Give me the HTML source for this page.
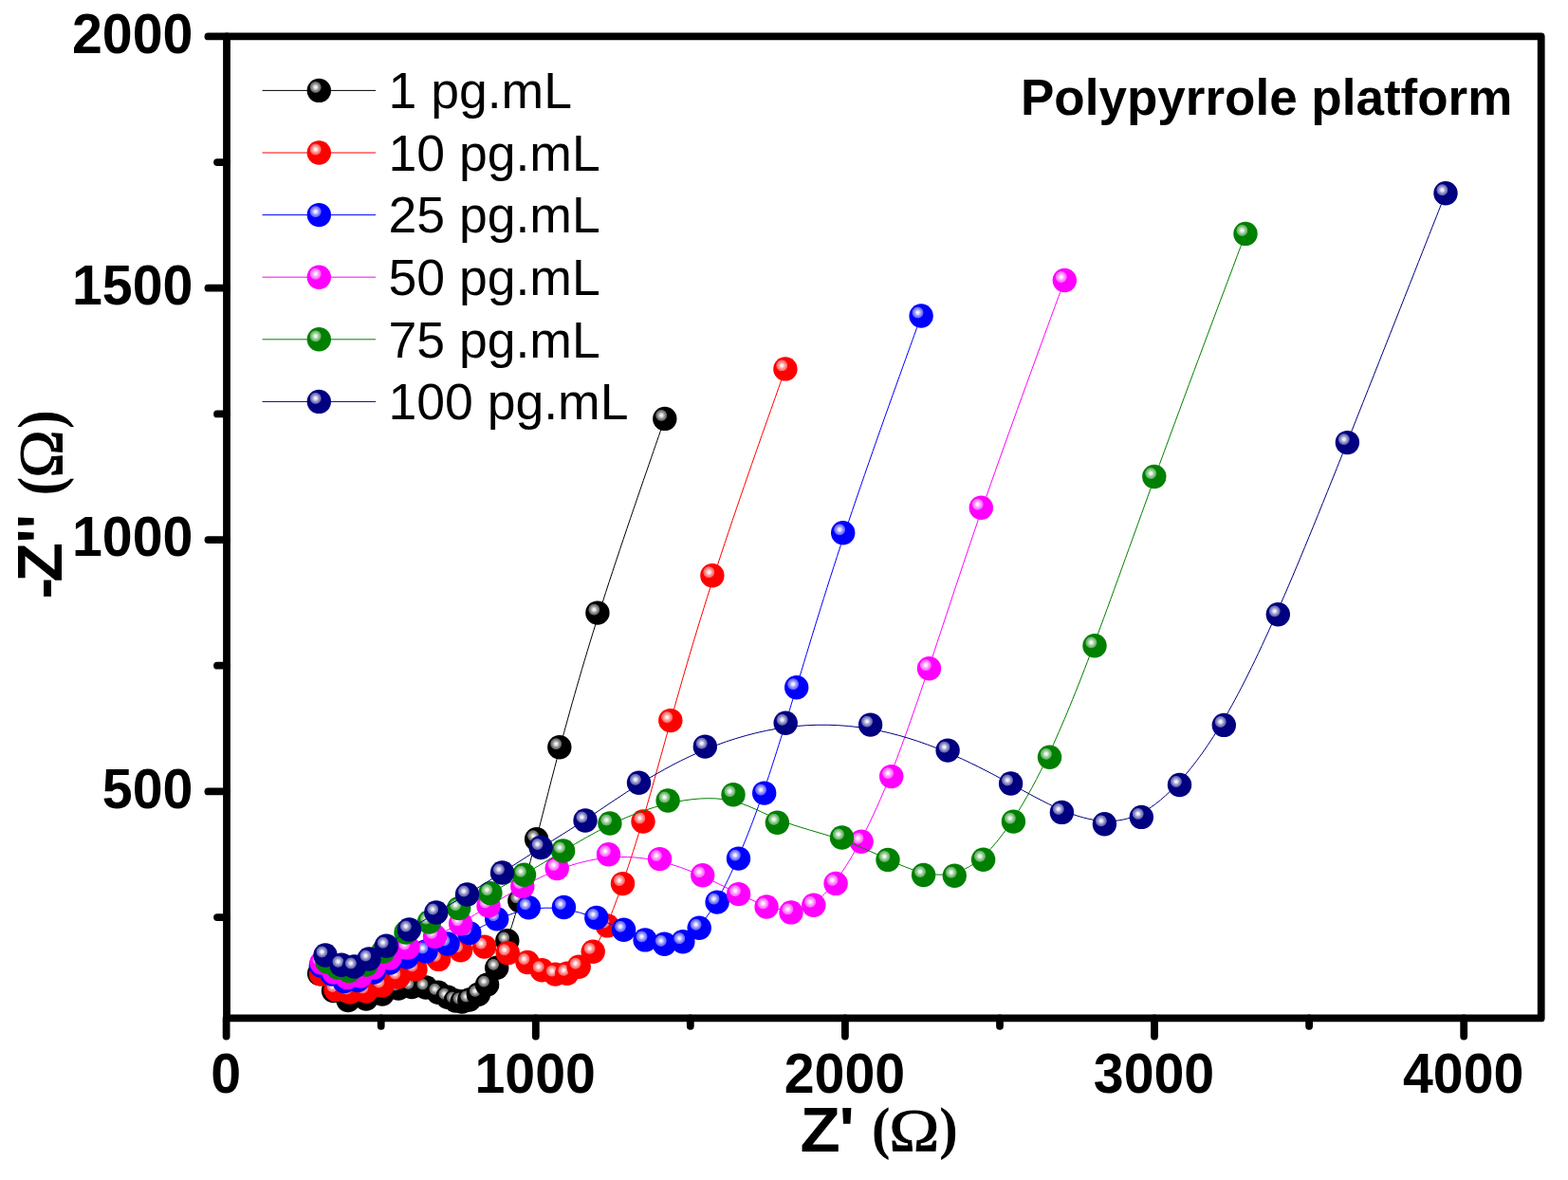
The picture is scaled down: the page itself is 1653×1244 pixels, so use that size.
<!DOCTYPE html><html><head><meta charset="utf-8"><title>Nyquist plot - Polypyrrole platform</title>
<style>html,body{margin:0;padding:0;background:#fff;}body{width:1653px;height:1244px;overflow:hidden;}svg{display:block;}.t{font-family:"Liberation Sans",Arial,sans-serif;}.b{font-weight:bold;}.s{font-family:"Liberation Serif","Times New Roman",serif;font-weight:bold;}.r{font-family:"Liberation Serif","Times New Roman",serif;}</style></head><body>
<svg width="1653" height="1244" viewBox="0 0 1653 1244">
<defs><radialGradient id="hl" cx="0.5" cy="0.5" r="0.5"><stop offset="0" stop-color="#fff" stop-opacity="1"/><stop offset="0.22" stop-color="#fff" stop-opacity="0.9"/><stop offset="0.6" stop-color="#fff" stop-opacity="0.55"/><stop offset="0.85" stop-color="#fff" stop-opacity="0.4"/><stop offset="1" stop-color="#fff" stop-opacity="0"/></radialGradient></defs>
<rect width="1653" height="1244" fill="#fff"/>
<path d="M336.6,1026.5C336.6,1026.5 336.6,1026.5 339.1,1029.5C341.6,1032.5 346.5,1038.5 351.6,1043.2C356.7,1047.8 361.8,1051.2 367.6,1052.6C373.3,1054 379.7,1053.5 385.7,1052.4C391.7,1051.3 397.3,1049.7 403,1047.8C408.7,1046 414.3,1044 419.5,1042.8C424.7,1041.5 429.3,1041 434.2,1040.8C439,1040.7 444,1040.8 448.7,1041.8C453.3,1042.8 457.7,1044.5 461.5,1046.2C465.3,1047.9 468.7,1049.6 471.7,1051C474.8,1052.5 477.5,1053.7 480,1054.5C482.6,1055.3 484.8,1055.7 487.3,1055.5C489.7,1055.3 492.2,1054.7 495.1,1053.4C498,1052.1 501.2,1050.2 504.3,1047.5C507.5,1044.9 510.5,1041.5 513.8,1036.8C517,1032.2 520.3,1026.2 523.9,1018.5C527.4,1010.8 531.1,1001.3 535.1,989.6C539.1,977.8 543.5,963.8 548.6,945.9C553.7,928.1 559.7,906.4 566.7,879.4C573.7,852.4 581.7,820 592.4,780.3C603.2,740.5 616.5,693.3 635,635.6C653.5,577.9 677.2,509.6 689,475.5C700.8,441.4 700.8,441.4 700.8,441.4" fill="none" stroke="#000000" stroke-width="1.0"/>
<g><circle cx="336.6" cy="1026.5" r="12.7" fill="#000000"/><circle cx="333" cy="1023" r="6.4" fill="url(#hl)"/><circle cx="351.5" cy="1044.5" r="12.7" fill="#000000"/><circle cx="347.9" cy="1041" r="6.4" fill="url(#hl)"/><circle cx="367" cy="1054.5" r="12.7" fill="#000000"/><circle cx="363.4" cy="1051" r="6.4" fill="url(#hl)"/><circle cx="386" cy="1053" r="12.7" fill="#000000"/><circle cx="382.4" cy="1049.5" r="6.4" fill="url(#hl)"/><circle cx="403" cy="1048" r="12.7" fill="#000000"/><circle cx="399.4" cy="1044.5" r="6.4" fill="url(#hl)"/><circle cx="420" cy="1042" r="12.7" fill="#000000"/><circle cx="416.4" cy="1038.5" r="6.4" fill="url(#hl)"/><circle cx="434" cy="1040.5" r="12.7" fill="#000000"/><circle cx="430.4" cy="1037" r="6.4" fill="url(#hl)"/><circle cx="449" cy="1041" r="12.7" fill="#000000"/><circle cx="445.4" cy="1037.5" r="6.4" fill="url(#hl)"/><circle cx="462" cy="1046.3" r="12.7" fill="#000000"/><circle cx="458.4" cy="1042.8" r="6.4" fill="url(#hl)"/><circle cx="472" cy="1051.2" r="12.7" fill="#000000"/><circle cx="468.4" cy="1047.7" r="6.4" fill="url(#hl)"/><circle cx="480.3" cy="1055" r="12.7" fill="#000000"/><circle cx="476.7" cy="1051.5" r="6.4" fill="url(#hl)"/><circle cx="487.1" cy="1056" r="12.7" fill="#000000"/><circle cx="483.5" cy="1052.5" r="6.4" fill="url(#hl)"/><circle cx="494.8" cy="1054" r="12.7" fill="#000000"/><circle cx="491.2" cy="1050.5" r="6.4" fill="url(#hl)"/><circle cx="504.4" cy="1048.3" r="12.7" fill="#000000"/><circle cx="500.8" cy="1044.8" r="6.4" fill="url(#hl)"/><circle cx="513.6" cy="1038.1" r="12.7" fill="#000000"/><circle cx="510" cy="1034.6" r="6.4" fill="url(#hl)"/><circle cx="523.7" cy="1020.3" r="12.7" fill="#000000"/><circle cx="520.1" cy="1016.8" r="6.4" fill="url(#hl)"/><circle cx="534.8" cy="991.8" r="12.7" fill="#000000"/><circle cx="531.2" cy="988.3" r="6.4" fill="url(#hl)"/><circle cx="547.8" cy="949.8" r="12.7" fill="#000000"/><circle cx="544.2" cy="946.3" r="6.4" fill="url(#hl)"/><circle cx="565.6" cy="884.7" r="12.7" fill="#000000"/><circle cx="562" cy="881.2" r="6.4" fill="url(#hl)"/><circle cx="589.8" cy="787.7" r="12.7" fill="#000000"/><circle cx="586.2" cy="784.2" r="6.4" fill="url(#hl)"/><circle cx="629.9" cy="646.1" r="12.7" fill="#000000"/><circle cx="626.3" cy="642.6" r="6.4" fill="url(#hl)"/><circle cx="700.8" cy="441.4" r="12.7" fill="#000000"/><circle cx="697.2" cy="437.9" r="6.4" fill="url(#hl)"/></g>
<path d="M338.5,1027C338.5,1027 338.5,1027 341.1,1029.8C343.7,1032.5 348.8,1038 353.9,1041.2C359,1044.3 364,1045.2 369.3,1045.4C374.7,1045.7 380.3,1045.3 386,1044.2C391.7,1043 397.3,1041 403,1038.5C408.7,1036 414.3,1033 420.2,1030.2C426,1027.3 432,1024.7 439.1,1021.6C446.2,1018.5 454.3,1014.9 462.3,1011.6C470.2,1008.2 477.9,1005 485.9,1002.8C494,1000.6 502.3,999.3 510.6,999.8C518.9,1000.3 527.1,1002.6 534.6,1005.3C542.2,1008 549.1,1011.3 555.1,1014.2C561.1,1017.2 566.2,1020 571.1,1022.1C576,1024.2 580.7,1025.6 585.1,1026.2C589.5,1026.8 593.7,1026.6 597.8,1025.2C601.9,1023.9 606.1,1021.6 610.6,1017.7C615.2,1013.9 620.2,1008.6 625.2,1001.4C630.2,994.2 635.3,985 640.5,973.1C645.7,961.1 651.1,946.4 657.4,928.1C663.7,909.7 670.8,887.9 679.2,859.2C687.6,830.5 697.2,795.1 709.3,751.9C721.5,708.6 736.2,657.7 756.4,595.9C776.6,534.1 802.2,461.5 815.1,425.2C827.9,388.9 827.9,388.9 827.9,388.9" fill="none" stroke="#FF0000" stroke-width="1.0"/>
<g><circle cx="338.5" cy="1027" r="12.7" fill="#FF0000"/><circle cx="334.9" cy="1023.5" r="6.4" fill="url(#hl)"/><circle cx="354" cy="1043.5" r="12.7" fill="#FF0000"/><circle cx="350.4" cy="1040" r="6.4" fill="url(#hl)"/><circle cx="369" cy="1046" r="12.7" fill="#FF0000"/><circle cx="365.4" cy="1042.5" r="6.4" fill="url(#hl)"/><circle cx="386" cy="1045" r="12.7" fill="#FF0000"/><circle cx="382.4" cy="1041.5" r="6.4" fill="url(#hl)"/><circle cx="403" cy="1039" r="12.7" fill="#FF0000"/><circle cx="399.4" cy="1035.5" r="6.4" fill="url(#hl)"/><circle cx="420" cy="1030" r="12.7" fill="#FF0000"/><circle cx="416.4" cy="1026.5" r="6.4" fill="url(#hl)"/><circle cx="438" cy="1022" r="12.7" fill="#FF0000"/><circle cx="434.4" cy="1018.5" r="6.4" fill="url(#hl)"/><circle cx="462.5" cy="1011.4" r="12.7" fill="#FF0000"/><circle cx="458.9" cy="1007.9" r="6.4" fill="url(#hl)"/><circle cx="485.6" cy="1001.8" r="12.7" fill="#FF0000"/><circle cx="482" cy="998.3" r="6.4" fill="url(#hl)"/><circle cx="510.7" cy="998.1" r="12.7" fill="#FF0000"/><circle cx="507.1" cy="994.6" r="6.4" fill="url(#hl)"/><circle cx="535.3" cy="1004.8" r="12.7" fill="#FF0000"/><circle cx="531.7" cy="1001.3" r="6.4" fill="url(#hl)"/><circle cx="556" cy="1014.5" r="12.7" fill="#FF0000"/><circle cx="552.4" cy="1011" r="6.4" fill="url(#hl)"/><circle cx="571.3" cy="1022.7" r="12.7" fill="#FF0000"/><circle cx="567.7" cy="1019.2" r="6.4" fill="url(#hl)"/><circle cx="585.4" cy="1027.1" r="12.7" fill="#FF0000"/><circle cx="581.8" cy="1023.6" r="6.4" fill="url(#hl)"/><circle cx="597.8" cy="1026.3" r="12.7" fill="#FF0000"/><circle cx="594.2" cy="1022.8" r="6.4" fill="url(#hl)"/><circle cx="610.2" cy="1019.2" r="12.7" fill="#FF0000"/><circle cx="606.6" cy="1015.7" r="6.4" fill="url(#hl)"/><circle cx="625.2" cy="1003.3" r="12.7" fill="#FF0000"/><circle cx="621.6" cy="999.8" r="6.4" fill="url(#hl)"/><circle cx="640.3" cy="975.9" r="12.7" fill="#FF0000"/><circle cx="636.7" cy="972.4" r="6.4" fill="url(#hl)"/><circle cx="656.5" cy="931.6" r="12.7" fill="#FF0000"/><circle cx="652.9" cy="928.1" r="6.4" fill="url(#hl)"/><circle cx="678" cy="866" r="12.7" fill="#FF0000"/><circle cx="674.4" cy="862.5" r="6.4" fill="url(#hl)"/><circle cx="706.8" cy="759.6" r="12.7" fill="#FF0000"/><circle cx="703.2" cy="756.1" r="6.4" fill="url(#hl)"/><circle cx="750.9" cy="606.7" r="12.7" fill="#FF0000"/><circle cx="747.3" cy="603.2" r="6.4" fill="url(#hl)"/><circle cx="827.9" cy="388.9" r="12.7" fill="#FF0000"/><circle cx="824.3" cy="385.4" r="6.4" fill="url(#hl)"/></g>
<path d="M338.3,1018C338.3,1018 338.3,1018 340.2,1019.5C342.2,1021 346.1,1024 350.2,1026.8C354.3,1029.5 358.7,1032 363.2,1033.1C367.7,1034.2 372.3,1033.8 377.5,1032.2C382.7,1030.7 388.3,1027.8 394,1024.8C399.7,1021.7 405.3,1018.3 411.2,1015.7C417,1013 423,1011 429.3,1009C435.7,1007 442.3,1005 449.5,1002.7C456.7,1000.3 464.3,997.7 472,994.4C479.6,991.2 487.2,987.4 495.8,983C504.4,978.6 514.1,973.7 524.5,969.2C534.9,964.7 546.1,960.8 557.9,958.7C569.7,956.7 582,956.6 593.9,958.4C605.9,960.1 617.3,963.8 627.9,967.7C638.4,971.7 648,976 656.5,979.9C665.1,983.8 672.6,987.4 679.7,989.9C686.9,992.4 693.6,993.8 700.3,994.1C706.9,994.4 713.4,993.6 719.5,990.7C725.7,987.9 731.4,983 737.5,976.1C743.5,969.2 749.8,960.1 756.7,948C763.6,935.8 771,920.4 779.3,901.3C787.6,882.1 796.6,859.1 806.8,829C817,799 828.4,761.8 842.2,716.1C856,670.4 872.4,616.1 894.3,550.8C916.2,485.5 943.6,409.3 957.4,371.1C971.1,333 971.1,333 971.1,333" fill="none" stroke="#0000FF" stroke-width="1.0"/>
<g><circle cx="338.3" cy="1018" r="12.7" fill="#0000FF"/><circle cx="334.7" cy="1014.5" r="6.4" fill="url(#hl)"/><circle cx="350" cy="1027" r="12.7" fill="#0000FF"/><circle cx="346.4" cy="1023.5" r="6.4" fill="url(#hl)"/><circle cx="363" cy="1034.5" r="12.7" fill="#0000FF"/><circle cx="359.4" cy="1031" r="6.4" fill="url(#hl)"/><circle cx="377" cy="1033.5" r="12.7" fill="#0000FF"/><circle cx="373.4" cy="1030" r="6.4" fill="url(#hl)"/><circle cx="394" cy="1025" r="12.7" fill="#0000FF"/><circle cx="390.4" cy="1021.5" r="6.4" fill="url(#hl)"/><circle cx="411" cy="1015" r="12.7" fill="#0000FF"/><circle cx="407.4" cy="1011.5" r="6.4" fill="url(#hl)"/><circle cx="429" cy="1009" r="12.7" fill="#0000FF"/><circle cx="425.4" cy="1005.5" r="6.4" fill="url(#hl)"/><circle cx="449" cy="1003" r="12.7" fill="#0000FF"/><circle cx="445.4" cy="999.5" r="6.4" fill="url(#hl)"/><circle cx="472" cy="995" r="12.7" fill="#0000FF"/><circle cx="468.4" cy="991.5" r="6.4" fill="url(#hl)"/><circle cx="494.8" cy="983.6" r="12.7" fill="#0000FF"/><circle cx="491.2" cy="980.1" r="6.4" fill="url(#hl)"/><circle cx="523.7" cy="968.7" r="12.7" fill="#0000FF"/><circle cx="520.1" cy="965.2" r="6.4" fill="url(#hl)"/><circle cx="557.3" cy="956.8" r="12.7" fill="#0000FF"/><circle cx="553.7" cy="953.3" r="6.4" fill="url(#hl)"/><circle cx="594.4" cy="956.5" r="12.7" fill="#0000FF"/><circle cx="590.8" cy="953" r="6.4" fill="url(#hl)"/><circle cx="628.8" cy="967.4" r="12.7" fill="#0000FF"/><circle cx="625.2" cy="963.9" r="6.4" fill="url(#hl)"/><circle cx="657.6" cy="980.3" r="12.7" fill="#0000FF"/><circle cx="654" cy="976.8" r="6.4" fill="url(#hl)"/><circle cx="680.1" cy="990.9" r="12.7" fill="#0000FF"/><circle cx="676.5" cy="987.4" r="6.4" fill="url(#hl)"/><circle cx="700.4" cy="995.3" r="12.7" fill="#0000FF"/><circle cx="696.8" cy="991.8" r="6.4" fill="url(#hl)"/><circle cx="719.9" cy="992.7" r="12.7" fill="#0000FF"/><circle cx="716.3" cy="989.2" r="6.4" fill="url(#hl)"/><circle cx="737.2" cy="978.2" r="12.7" fill="#0000FF"/><circle cx="733.6" cy="974.7" r="6.4" fill="url(#hl)"/><circle cx="756.1" cy="951.1" r="12.7" fill="#0000FF"/><circle cx="752.5" cy="947.6" r="6.4" fill="url(#hl)"/><circle cx="778.5" cy="905.1" r="12.7" fill="#0000FF"/><circle cx="774.9" cy="901.6" r="6.4" fill="url(#hl)"/><circle cx="805.7" cy="836.1" r="12.7" fill="#0000FF"/><circle cx="802.1" cy="832.6" r="6.4" fill="url(#hl)"/><circle cx="839.7" cy="724.7" r="12.7" fill="#0000FF"/><circle cx="836.1" cy="721.2" r="6.4" fill="url(#hl)"/><circle cx="888.7" cy="561.8" r="12.7" fill="#0000FF"/><circle cx="885.1" cy="558.3" r="6.4" fill="url(#hl)"/><circle cx="971.1" cy="333" r="12.7" fill="#0000FF"/><circle cx="967.5" cy="329.5" r="6.4" fill="url(#hl)"/></g>
<path d="M339,1015C339,1015 339,1015 341.2,1016.7C343.3,1018.3 347.7,1021.7 352.2,1024.2C356.7,1026.8 361.3,1028.7 366,1029.3C370.7,1030 375.3,1029.5 380,1027.8C384.7,1026 389.3,1023 394.5,1019.8C399.7,1016.7 405.3,1013.3 411.3,1009.8C417.3,1006.3 423.7,1002.7 431.6,998.9C439.5,995.1 449.1,991.2 458.3,987C467.6,982.8 476.6,978.3 486,972.9C495.4,967.5 505.2,961.3 516.1,954.7C526.9,948.2 538.9,941.3 550.9,934.8C562.9,928.2 575.1,921.9 590.2,916.3C605.3,910.7 623.4,905.7 641.4,904.1C659.5,902.4 677.5,904 694,907.7C710.6,911.3 725.6,917.1 739.5,923.2C753.3,929.4 766,936 777.2,941.5C788.4,947.1 798.3,951.5 807.5,954.8C816.7,958 825.4,959.9 833.7,959.7C841.9,959.4 849.9,956.8 857.7,951.7C865.6,946.7 873.3,939 881.7,927.8C890.1,916.7 899.1,901.9 908.9,883.1C918.6,864.3 929.2,841.5 941.1,811.1C953,780.6 966.2,742.7 982,695.4C997.8,648.2 1016,591.7 1039.8,523.5C1063.6,455.3 1093,375.4 1107.6,335.4C1122.3,295.5 1122.3,295.5 1122.3,295.5" fill="none" stroke="#FF00FF" stroke-width="1.0"/>
<g><circle cx="339" cy="1015" r="12.7" fill="#FF00FF"/><circle cx="335.4" cy="1011.5" r="6.4" fill="url(#hl)"/><circle cx="352" cy="1025" r="12.7" fill="#FF00FF"/><circle cx="348.4" cy="1021.5" r="6.4" fill="url(#hl)"/><circle cx="366" cy="1030.5" r="12.7" fill="#FF00FF"/><circle cx="362.4" cy="1027" r="6.4" fill="url(#hl)"/><circle cx="380" cy="1029" r="12.7" fill="#FF00FF"/><circle cx="376.4" cy="1025.5" r="6.4" fill="url(#hl)"/><circle cx="394" cy="1020" r="12.7" fill="#FF00FF"/><circle cx="390.4" cy="1016.5" r="6.4" fill="url(#hl)"/><circle cx="411" cy="1010" r="12.7" fill="#FF00FF"/><circle cx="407.4" cy="1006.5" r="6.4" fill="url(#hl)"/><circle cx="430" cy="999" r="12.7" fill="#FF00FF"/><circle cx="426.4" cy="995.5" r="6.4" fill="url(#hl)"/><circle cx="458.6" cy="987.3" r="12.7" fill="#FF00FF"/><circle cx="455" cy="983.8" r="6.4" fill="url(#hl)"/><circle cx="485.6" cy="973.8" r="12.7" fill="#FF00FF"/><circle cx="482" cy="970.3" r="6.4" fill="url(#hl)"/><circle cx="515" cy="955" r="12.7" fill="#FF00FF"/><circle cx="511.4" cy="951.5" r="6.4" fill="url(#hl)"/><circle cx="550.8" cy="934.5" r="12.7" fill="#FF00FF"/><circle cx="547.2" cy="931" r="6.4" fill="url(#hl)"/><circle cx="587.2" cy="915.6" r="12.7" fill="#FF00FF"/><circle cx="583.6" cy="912.1" r="6.4" fill="url(#hl)"/><circle cx="641.5" cy="900.8" r="12.7" fill="#FF00FF"/><circle cx="637.9" cy="897.3" r="6.4" fill="url(#hl)"/><circle cx="695.5" cy="905.6" r="12.7" fill="#FF00FF"/><circle cx="691.9" cy="902.1" r="6.4" fill="url(#hl)"/><circle cx="740.7" cy="922.8" r="12.7" fill="#FF00FF"/><circle cx="737.1" cy="919.3" r="6.4" fill="url(#hl)"/><circle cx="778.6" cy="942.6" r="12.7" fill="#FF00FF"/><circle cx="775" cy="939.1" r="6.4" fill="url(#hl)"/><circle cx="808.1" cy="956" r="12.7" fill="#FF00FF"/><circle cx="804.5" cy="952.5" r="6.4" fill="url(#hl)"/><circle cx="834" cy="961.9" r="12.7" fill="#FF00FF"/><circle cx="830.4" cy="958.4" r="6.4" fill="url(#hl)"/><circle cx="857.8" cy="954.3" r="12.7" fill="#FF00FF"/><circle cx="854.2" cy="950.8" r="6.4" fill="url(#hl)"/><circle cx="881.1" cy="931.4" r="12.7" fill="#FF00FF"/><circle cx="877.5" cy="927.9" r="6.4" fill="url(#hl)"/><circle cx="908.1" cy="887.2" r="12.7" fill="#FF00FF"/><circle cx="904.5" cy="883.7" r="6.4" fill="url(#hl)"/><circle cx="939.7" cy="818.6" r="12.7" fill="#FF00FF"/><circle cx="936.1" cy="815.1" r="6.4" fill="url(#hl)"/><circle cx="979.5" cy="704.7" r="12.7" fill="#FF00FF"/><circle cx="975.9" cy="701.2" r="6.4" fill="url(#hl)"/><circle cx="1034.3" cy="535.2" r="12.7" fill="#FF00FF"/><circle cx="1030.7" cy="531.7" r="6.4" fill="url(#hl)"/><circle cx="1122.3" cy="295.5" r="12.7" fill="#FF00FF"/><circle cx="1118.7" cy="292" r="6.4" fill="url(#hl)"/></g>
<path d="M345,1014C345,1014 345,1014 346.8,1015C348.7,1016 352.3,1018 356.2,1019.6C360,1021.2 364,1022.3 369,1021.8C374,1021.3 380,1019.2 386,1015.8C392,1012.3 398,1007.7 405,1002C412,996.3 420,989.7 428.1,984.5C436.2,979.3 444.3,975.7 453.6,971.4C462.9,967.2 473.3,962.4 484,957.3C494.8,952.3 505.8,946.9 517.3,941C528.8,935.1 540.6,928.7 553.4,921.2C566.2,913.8 579.9,905.4 595,896.4C610,887.3 626.5,877.7 644.9,868.8C663.3,860 683.7,852 705.4,846.9C727.1,841.9 750,839.8 769.2,843.7C788.5,847.6 803.9,857.4 823,865C842.1,872.5 864.8,877.8 884.2,884.3C903.7,890.8 919.8,898.6 934.2,905.2C948.5,911.8 961.1,917.1 972.8,919.9C984.5,922.7 995.4,923 1005.9,920.2C1016.4,917.5 1026.5,911.9 1036.9,902.4C1047.2,892.8 1057.8,879.5 1069.5,861.5C1081.1,843.5 1093.8,820.9 1108.1,790C1122.3,759.1 1138.2,720 1156.5,670.7C1174.9,621.4 1195.9,561.9 1222.4,489.5C1248.9,417.1 1280.9,331.8 1297,289.1C1313,246.4 1313,246.4 1313,246.4" fill="none" stroke="#008000" stroke-width="1.0"/>
<g><circle cx="345" cy="1014" r="12.7" fill="#008000"/><circle cx="341.4" cy="1010.5" r="6.4" fill="url(#hl)"/><circle cx="356" cy="1020" r="12.7" fill="#008000"/><circle cx="352.4" cy="1016.5" r="6.4" fill="url(#hl)"/><circle cx="368" cy="1023.5" r="12.7" fill="#008000"/><circle cx="364.4" cy="1020" r="6.4" fill="url(#hl)"/><circle cx="386" cy="1017" r="12.7" fill="#008000"/><circle cx="382.4" cy="1013.5" r="6.4" fill="url(#hl)"/><circle cx="404" cy="1003" r="12.7" fill="#008000"/><circle cx="400.4" cy="999.5" r="6.4" fill="url(#hl)"/><circle cx="428" cy="983" r="12.7" fill="#008000"/><circle cx="424.4" cy="979.5" r="6.4" fill="url(#hl)"/><circle cx="452.5" cy="972" r="12.7" fill="#008000"/><circle cx="448.9" cy="968.5" r="6.4" fill="url(#hl)"/><circle cx="483.7" cy="957.6" r="12.7" fill="#008000"/><circle cx="480.1" cy="954.1" r="6.4" fill="url(#hl)"/><circle cx="516.9" cy="941.6" r="12.7" fill="#008000"/><circle cx="513.3" cy="938.1" r="6.4" fill="url(#hl)"/><circle cx="552.5" cy="922.2" r="12.7" fill="#008000"/><circle cx="548.9" cy="918.7" r="6.4" fill="url(#hl)"/><circle cx="593.6" cy="897" r="12.7" fill="#008000"/><circle cx="590" cy="893.5" r="6.4" fill="url(#hl)"/><circle cx="642.9" cy="868" r="12.7" fill="#008000"/><circle cx="639.3" cy="864.5" r="6.4" fill="url(#hl)"/><circle cx="704.1" cy="844" r="12.7" fill="#008000"/><circle cx="700.5" cy="840.5" r="6.4" fill="url(#hl)"/><circle cx="773" cy="837.7" r="12.7" fill="#008000"/><circle cx="769.4" cy="834.2" r="6.4" fill="url(#hl)"/><circle cx="819.4" cy="867.3" r="12.7" fill="#008000"/><circle cx="815.8" cy="863.8" r="6.4" fill="url(#hl)"/><circle cx="887.5" cy="883" r="12.7" fill="#008000"/><circle cx="883.9" cy="879.5" r="6.4" fill="url(#hl)"/><circle cx="936" cy="906.4" r="12.7" fill="#008000"/><circle cx="932.4" cy="902.9" r="6.4" fill="url(#hl)"/><circle cx="973.6" cy="922.5" r="12.7" fill="#008000"/><circle cx="970" cy="919" r="6.4" fill="url(#hl)"/><circle cx="1006.3" cy="923.2" r="12.7" fill="#008000"/><circle cx="1002.7" cy="919.7" r="6.4" fill="url(#hl)"/><circle cx="1036.6" cy="906.2" r="12.7" fill="#008000"/><circle cx="1033" cy="902.7" r="6.4" fill="url(#hl)"/><circle cx="1068.4" cy="866.1" r="12.7" fill="#008000"/><circle cx="1064.8" cy="862.6" r="6.4" fill="url(#hl)"/><circle cx="1106.5" cy="798.3" r="12.7" fill="#008000"/><circle cx="1102.9" cy="794.8" r="6.4" fill="url(#hl)"/><circle cx="1154" cy="680.8" r="12.7" fill="#008000"/><circle cx="1150.4" cy="677.3" r="6.4" fill="url(#hl)"/><circle cx="1216.8" cy="502.5" r="12.7" fill="#008000"/><circle cx="1213.2" cy="499" r="6.4" fill="url(#hl)"/><circle cx="1313" cy="246.4" r="12.7" fill="#008000"/><circle cx="1309.4" cy="242.9" r="6.4" fill="url(#hl)"/></g>
<path d="M343,1007C343,1007 343,1007 345.8,1008.7C348.7,1010.4 354.3,1013.9 359.4,1015.9C364.5,1017.9 369,1018.4 373.8,1017.4C378.7,1016.3 383.8,1013.7 389.5,1010C395.1,1006.4 401.2,1001.8 408.3,996.6C415.3,991.5 423.4,985.7 432.1,979.9C440.9,974 450.3,968 460.5,961.8C470.7,955.7 481.6,949.3 493.2,942.3C504.8,935.3 517.2,927.7 530.1,919.4C543.1,911.2 556.6,902.3 571.2,893.2C585.8,884 601.4,874.5 618.6,863.1C635.8,851.8 654.7,838.5 675.7,825.6C696.8,812.6 720,799.8 745.8,789.3C771.6,778.8 799.9,770.6 829,766.7C858,762.9 887.8,763.5 916.3,768.3C944.8,773.1 971.9,782.1 996.6,792.4C1021.3,802.7 1043.4,814.4 1063.5,825.2C1083.5,836.1 1101.5,846.3 1117.9,853.4C1134.4,860.5 1149.4,864.7 1163.4,865.5C1177.4,866.3 1190.3,863.9 1203.5,857C1216.7,850.1 1230.1,838.8 1244.6,822.6C1259.1,806.5 1274.7,785.4 1292,755.5C1309.3,725.5 1328.3,686.7 1350,637C1371.7,587.4 1396,527 1425.5,453C1454.9,379 1489.5,291.3 1506.7,247.5C1524,203.7 1524,203.7 1524,203.7" fill="none" stroke="#000080" stroke-width="1.0"/>
<g><circle cx="343" cy="1007" r="12.7" fill="#000080"/><circle cx="339.4" cy="1003.5" r="6.4" fill="url(#hl)"/><circle cx="360" cy="1017.3" r="12.7" fill="#000080"/><circle cx="356.4" cy="1013.8" r="6.4" fill="url(#hl)"/><circle cx="373.5" cy="1019" r="12.7" fill="#000080"/><circle cx="369.9" cy="1015.5" r="6.4" fill="url(#hl)"/><circle cx="389" cy="1011" r="12.7" fill="#000080"/><circle cx="385.4" cy="1007.5" r="6.4" fill="url(#hl)"/><circle cx="407.3" cy="997.2" r="12.7" fill="#000080"/><circle cx="403.7" cy="993.7" r="6.4" fill="url(#hl)"/><circle cx="431.4" cy="980" r="12.7" fill="#000080"/><circle cx="427.8" cy="976.5" r="6.4" fill="url(#hl)"/><circle cx="459.8" cy="962" r="12.7" fill="#000080"/><circle cx="456.2" cy="958.5" r="6.4" fill="url(#hl)"/><circle cx="492.5" cy="943" r="12.7" fill="#000080"/><circle cx="488.9" cy="939.5" r="6.4" fill="url(#hl)"/><circle cx="529.5" cy="920" r="12.7" fill="#000080"/><circle cx="525.9" cy="916.5" r="6.4" fill="url(#hl)"/><circle cx="570.2" cy="893.5" r="12.7" fill="#000080"/><circle cx="566.6" cy="890" r="6.4" fill="url(#hl)"/><circle cx="617" cy="865" r="12.7" fill="#000080"/><circle cx="613.4" cy="861.5" r="6.4" fill="url(#hl)"/><circle cx="673.5" cy="825.3" r="12.7" fill="#000080"/><circle cx="669.9" cy="821.8" r="6.4" fill="url(#hl)"/><circle cx="743.3" cy="787.1" r="12.7" fill="#000080"/><circle cx="739.7" cy="783.6" r="6.4" fill="url(#hl)"/><circle cx="828.2" cy="762.3" r="12.7" fill="#000080"/><circle cx="824.6" cy="758.8" r="6.4" fill="url(#hl)"/><circle cx="917.6" cy="764.1" r="12.7" fill="#000080"/><circle cx="914" cy="760.6" r="6.4" fill="url(#hl)"/><circle cx="999.1" cy="791.1" r="12.7" fill="#000080"/><circle cx="995.5" cy="787.6" r="6.4" fill="url(#hl)"/><circle cx="1065.6" cy="826" r="12.7" fill="#000080"/><circle cx="1062" cy="822.5" r="6.4" fill="url(#hl)"/><circle cx="1119.4" cy="856.4" r="12.7" fill="#000080"/><circle cx="1115.8" cy="852.9" r="6.4" fill="url(#hl)"/><circle cx="1164.4" cy="868.8" r="12.7" fill="#000080"/><circle cx="1160.8" cy="865.3" r="6.4" fill="url(#hl)"/><circle cx="1203.3" cy="861.4" r="12.7" fill="#000080"/><circle cx="1199.7" cy="857.9" r="6.4" fill="url(#hl)"/><circle cx="1243.5" cy="827.5" r="12.7" fill="#000080"/><circle cx="1239.9" cy="824" r="6.4" fill="url(#hl)"/><circle cx="1290.3" cy="764.4" r="12.7" fill="#000080"/><circle cx="1286.7" cy="760.9" r="6.4" fill="url(#hl)"/><circle cx="1347.3" cy="647.8" r="12.7" fill="#000080"/><circle cx="1343.7" cy="644.3" r="6.4" fill="url(#hl)"/><circle cx="1420.4" cy="466.6" r="12.7" fill="#000080"/><circle cx="1416.8" cy="463.1" r="6.4" fill="url(#hl)"/><circle cx="1524" cy="203.7" r="12.7" fill="#000080"/><circle cx="1520.4" cy="200.2" r="6.4" fill="url(#hl)"/></g>
<g stroke="#000" stroke-width="7.8" fill="none" stroke-linecap="round">
<path d="M239,38.4 H1624.7 V1073.4 H239 Z" stroke-linejoin="round" stroke-linecap="butt"/>
<path d="M239,834.4 H219.4"/>
<path d="M239,569.1 H219.4"/>
<path d="M239,303.7 H219.4"/>
<path d="M239,38.4 H219.4"/>
<path d="M239,967.1 H229"/>
<path d="M239,701.7 H229"/>
<path d="M239,436.4 H229"/>
<path d="M239,171.1 H229"/>
<path d="M238.6,1073.4 V1092.5"/>
<path d="M564.8,1073.4 V1092.5"/>
<path d="M890.9,1073.4 V1092.5"/>
<path d="M1217,1073.4 V1092.5"/>
<path d="M1543.2,1073.4 V1092.5"/>
<path d="M401.7,1073.4 V1081.8"/>
<path d="M727.8,1073.4 V1081.8"/>
<path d="M1054,1073.4 V1081.8"/>
<path d="M1380.1,1073.4 V1081.8"/>
</g>
<g class="t b" font-size="60" fill="#000">
<text transform="translate(203.4,851.5) scale(0.955,1)" text-anchor="end">500</text>
<text transform="translate(203.4,586.2) scale(0.955,1)" text-anchor="end">1000</text>
<text transform="translate(203.4,320.8) scale(0.955,1)" text-anchor="end">1500</text>
<text transform="translate(203.4,55.5) scale(0.955,1)" text-anchor="end">2000</text>
<text transform="translate(238.1,1152) scale(0.955,1)" text-anchor="middle">0</text>
<text transform="translate(564.2,1152) scale(0.955,1)" text-anchor="middle">1000</text>
<text transform="translate(890.4,1152) scale(0.955,1)" text-anchor="middle">2000</text>
<text transform="translate(1216.5,1152) scale(0.955,1)" text-anchor="middle">3000</text>
<text transform="translate(1542.7,1152) scale(0.955,1)" text-anchor="middle">4000</text>
</g>
<text class="t b" transform="translate(843.62,1214.10) scale(1.0391,1)" font-size="66.67" fill="#000">Z</text>
<text class="t b" transform="translate(884.54,1214.10) scale(1.0391,1)" font-size="66.67" fill="#000">'</text>
<text class="s" transform="translate(918.96,1209.88) scale(0.9654,1)" font-size="60.56" fill="#000">(</text>
<text class="r" stroke="#000" stroke-width="1.0" transform="translate(937.24,1213.47) scale(1.1327,1)" font-size="63.13" fill="#000">&#937;</text>
<text class="s" transform="translate(990.35,1209.88) scale(0.9654,1)" font-size="60.56" fill="#000">)</text>
<text class="t b" transform="translate(64.90,613.85) rotate(-90) scale(1.0117,1)" font-size="67.39" fill="#000">Z</text>
<text class="t b" transform="translate(67.07,631.43) rotate(-90) scale(1.0117,1)" font-size="67.39" fill="#000">-</text>
<text class="t b" transform="translate(64.90,572.82) rotate(-90) scale(0.9567,1)" font-size="67.39" fill="#000">''</text>
<text class="s" transform="translate(64.02,522.24) rotate(-90) scale(0.8843,1)" font-size="66.11" fill="#000">(</text>
<text class="r" stroke="#000" stroke-width="1.0" transform="translate(64.64,503.72) rotate(-90) scale(1.0360,1)" font-size="65.52" fill="#000">&#937;</text>
<text class="s" transform="translate(64.02,452.05) rotate(-90) scale(0.8843,1)" font-size="66.11" fill="#000">)</text>
<text class="t b" x="1076" y="121" font-size="53" fill="#000">Polypyrrole platform</text>
<path d="M276.5,95.4 H396" stroke="#000000" stroke-width="1.0"/>
<circle cx="336.3" cy="95.4" r="12.7" fill="#000000"/><circle cx="332.7" cy="91.9" r="6.4" fill="url(#hl)"/>
<text class="t" transform="translate(409.5,114.2) scale(0.986,1)" font-size="54.3" fill="#000">1 pg.mL</text>
<path d="M276.5,161 H396" stroke="#FF0000" stroke-width="1.0"/>
<circle cx="336.3" cy="161" r="12.7" fill="#FF0000"/><circle cx="332.7" cy="157.5" r="6.4" fill="url(#hl)"/>
<text class="t" transform="translate(409.5,179.8) scale(0.986,1)" font-size="54.3" fill="#000">10 pg.mL</text>
<path d="M276.5,226.6 H396" stroke="#0000FF" stroke-width="1.0"/>
<circle cx="336.3" cy="226.6" r="12.7" fill="#0000FF"/><circle cx="332.7" cy="223.1" r="6.4" fill="url(#hl)"/>
<text class="t" transform="translate(409.5,245.4) scale(0.986,1)" font-size="54.3" fill="#000">25 pg.mL</text>
<path d="M276.5,292.2 H396" stroke="#FF00FF" stroke-width="1.0"/>
<circle cx="336.3" cy="292.2" r="12.7" fill="#FF00FF"/><circle cx="332.7" cy="288.7" r="6.4" fill="url(#hl)"/>
<text class="t" transform="translate(409.5,311) scale(0.986,1)" font-size="54.3" fill="#000">50 pg.mL</text>
<path d="M276.5,357.8 H396" stroke="#008000" stroke-width="1.0"/>
<circle cx="336.3" cy="357.8" r="12.7" fill="#008000"/><circle cx="332.7" cy="354.3" r="6.4" fill="url(#hl)"/>
<text class="t" transform="translate(409.5,376.6) scale(0.986,1)" font-size="54.3" fill="#000">75 pg.mL</text>
<path d="M276.5,423.4 H396" stroke="#000080" stroke-width="1.0"/>
<circle cx="336.3" cy="423.4" r="12.7" fill="#000080"/><circle cx="332.7" cy="419.9" r="6.4" fill="url(#hl)"/>
<text class="t" transform="translate(409.5,442.2) scale(0.986,1)" font-size="54.3" fill="#000">100 pg.mL</text>
</svg></body></html>
